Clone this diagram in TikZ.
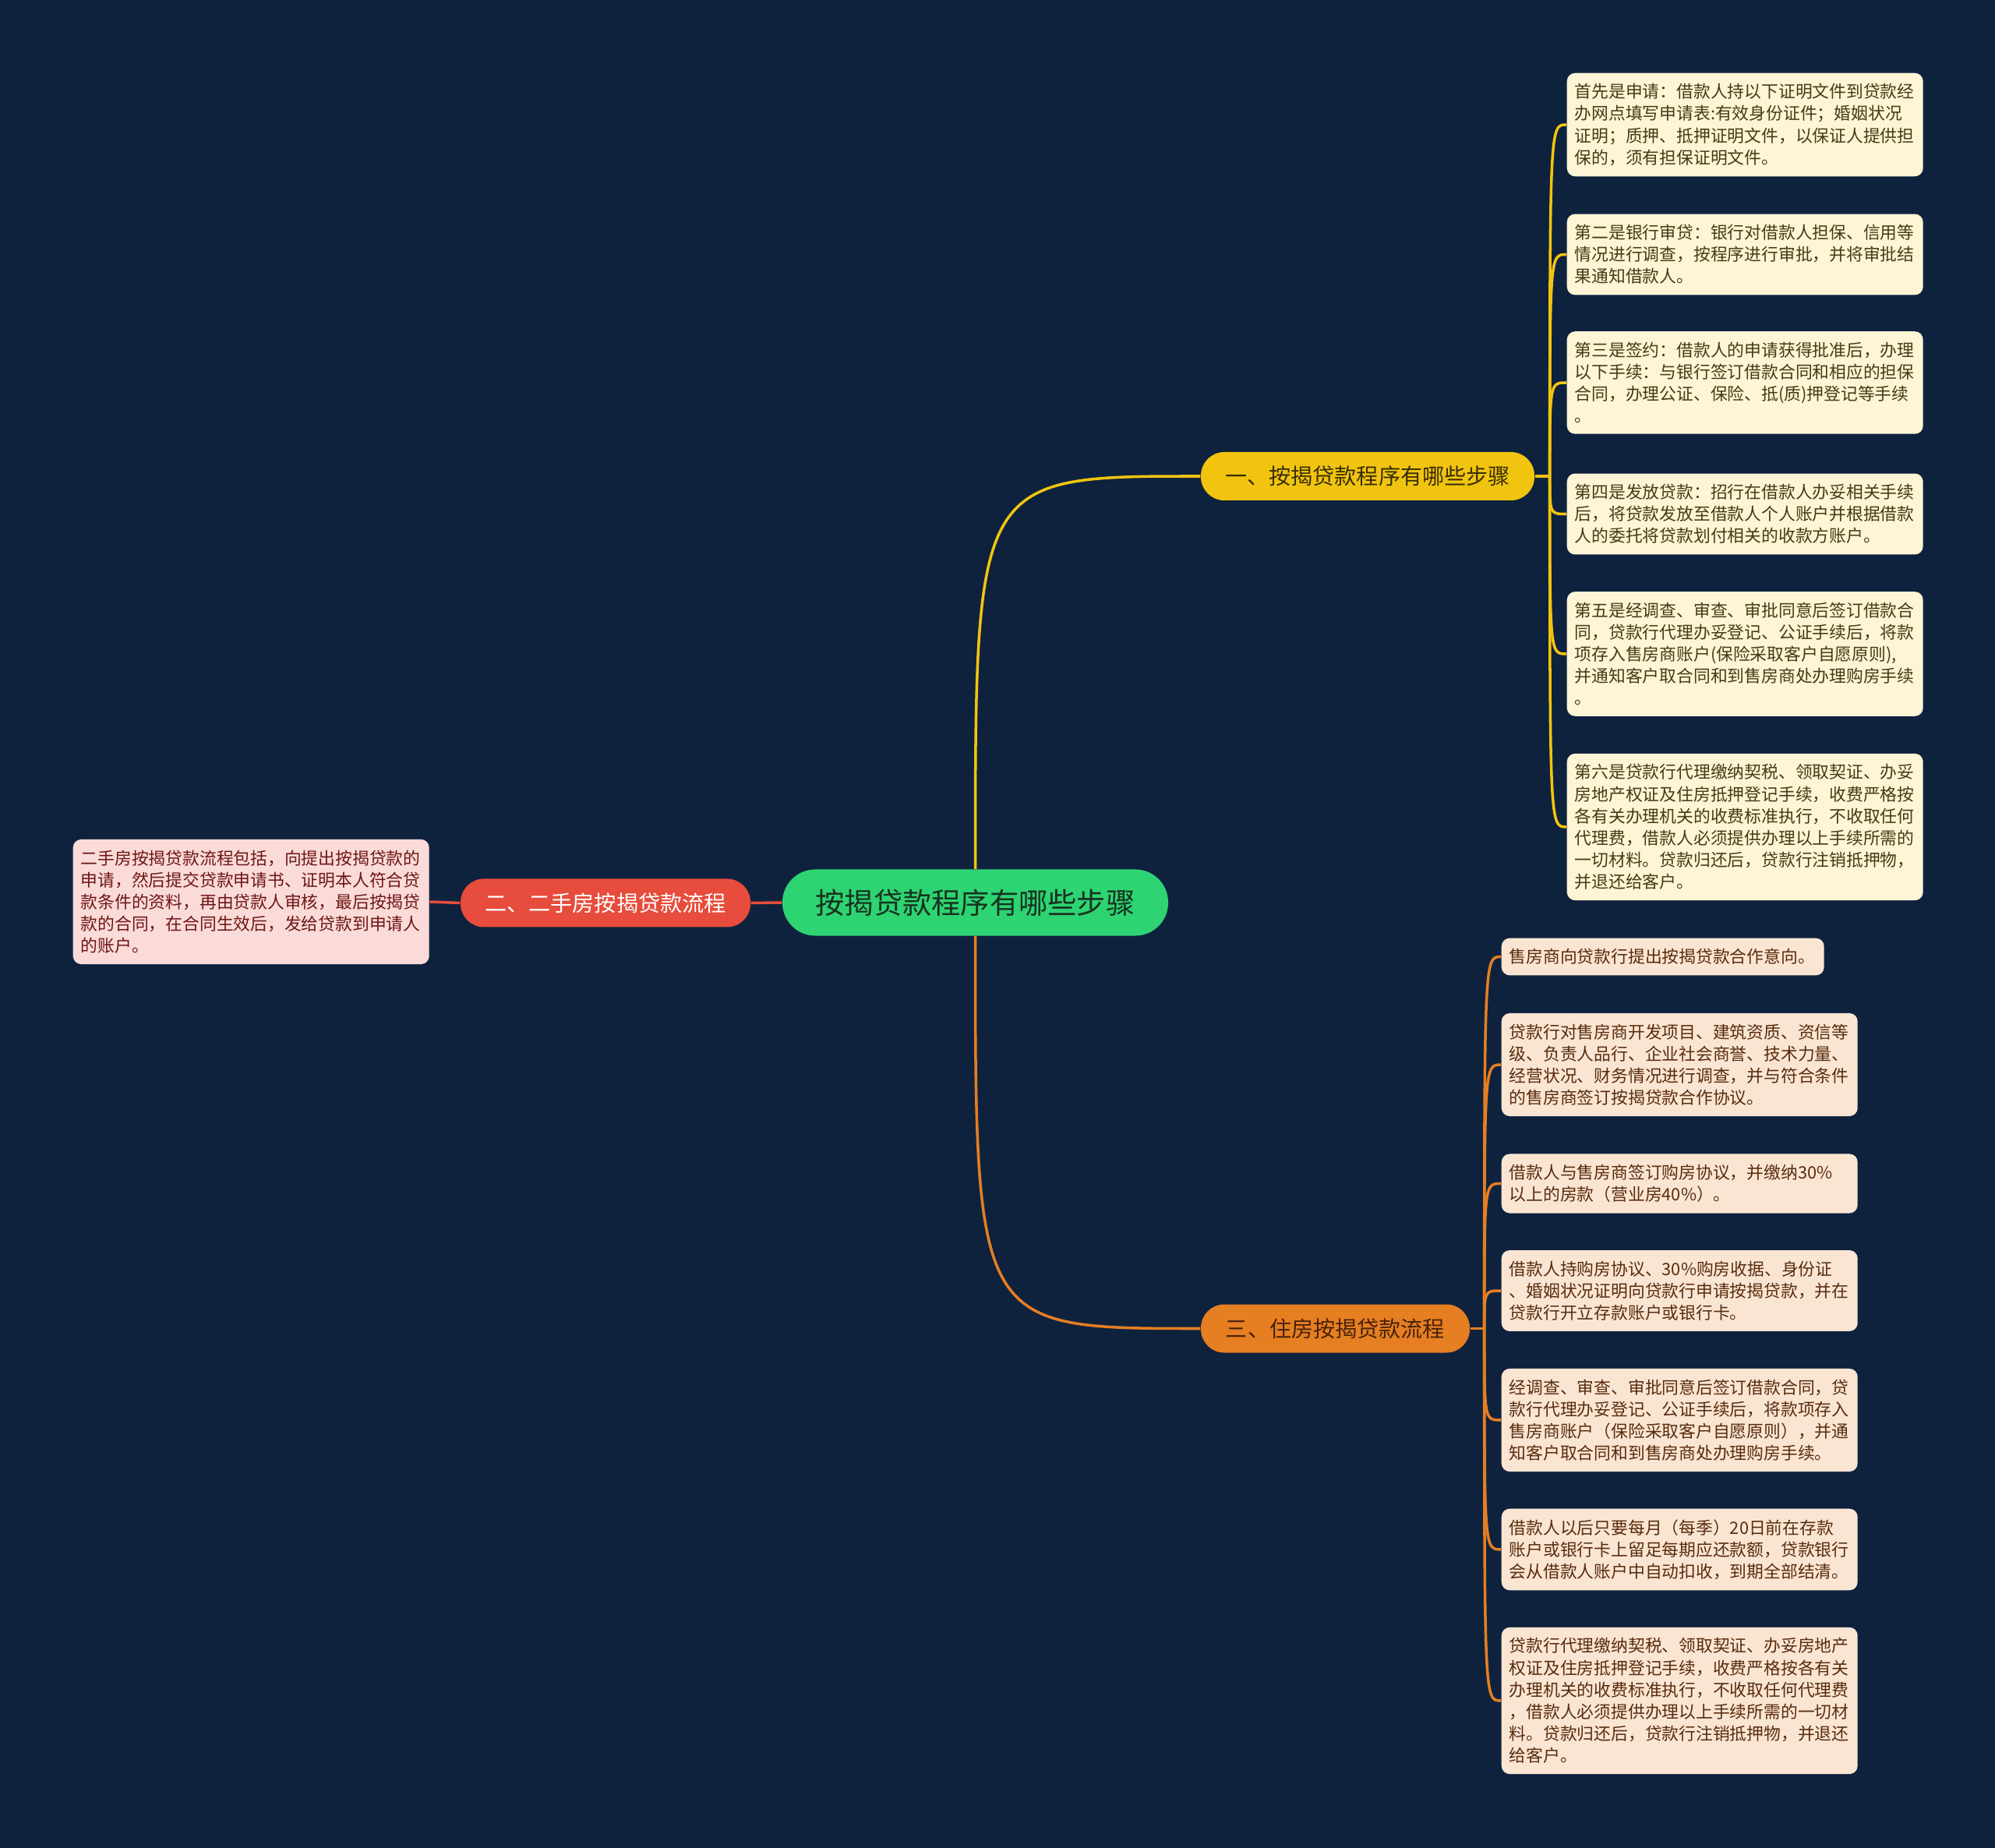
\documentclass[tikz,border=0pt]{standalone}
\usepackage{fontspec}
\setmainfont{Noto Sans CJK SC}
\usetikzlibrary{positioning}

\definecolor{bgnavy}{RGB}{14,34,62}
\definecolor{rootgreen}{RGB}{46,211,114}
\definecolor{rootink}{RGB}{22,50,32}
\definecolor{ylw}{RGB}{241,196,15}
\definecolor{ylwink}{RGB}{58,46,6}
\definecolor{ylwleaf}{RGB}{253,245,213}
\definecolor{ylwtext}{RGB}{70,58,22}
\definecolor{redc}{RGB}{231,76,60}
\definecolor{redleaf}{RGB}{250,219,216}
\definecolor{redtext}{RGB}{110,22,20}
\definecolor{org}{RGB}{230,126,34}
\definecolor{orgink}{RGB}{70,34,8}
\definecolor{orgleaf}{RGB}{250,229,211}
\definecolor{orgtext}{RGB}{88,44,14}

\begin{document}
\begin{tikzpicture}[
  leaf/.style={
    rounded corners=3pt,
    align=left,
    text width=4.37cm,
    inner xsep=0.1cm,
    inner ysep=3.9pt,
    anchor=west,
    font=\fontsize{6.2}{8}\selectfont
  },
  branch/.style={
    rounded corners=0.3cm,
    minimum height=0.62cm,
    inner sep=0pt,
    font=\fontsize{8}{10}\selectfont
  },
  link/.style={line width=1pt}
]

\fill[bgnavy] (0,0) rectangle (25.6,-23.71);
\useasboundingbox (0,0) rectangle (25.6,-23.71);

% Root and branches
\node[fill=rootgreen, text=rootink, rounded corners=0.42cm, minimum width=4.95cm,
  minimum height=0.85cm, inner sep=0pt, font=\fontsize{10.6}{12}\selectfont]
  (root) at (12.515,-11.58) {按揭贷款程序有哪些步骤};

\node[branch, fill=ylw, text=ylwink, minimum width=4.28cm] (steps) at (17.55,-6.11)
  {一、按揭贷款程序有哪些步骤};
\node[branch, fill=redc, text=white, minimum width=3.72cm] (resale) at (7.77,-11.585)
  {二、二手房按揭贷款流程};
\node[branch, fill=org, text=orgink, minimum width=3.45cm] (housing) at (17.135,-17.045)
  {三、住房按揭贷款流程};

% Steps leaves
\node[leaf, fill=ylwleaf, text=ylwtext] (s1) at (20.10,-1.60) {%
  首先是申请：借款人持以下证明文件到贷款经\\
  办网点填写申请表:有效身份证件；婚姻状况\\
  证明；质押、抵押证明文件，以保证人提供担\\
  保的，须有担保证明文件。};
\node[leaf, fill=ylwleaf, text=ylwtext] (s2) at (20.10,-3.265) {%
  第二是银行审贷：银行对借款人担保、信用等\\
  情况进行调查，按程序进行审批，并将审批结\\
  果通知借款人。};
\node[leaf, fill=ylwleaf, text=ylwtext] (s3) at (20.10,-4.91) {%
  第三是签约：借款人的申请获得批准后，办理\\
  以下手续：与银行签订借款合同和相应的担保\\
  合同，办理公证、保险、抵(质)押登记等手续\\
  。};
\node[leaf, fill=ylwleaf, text=ylwtext] (s4) at (20.10,-6.595) {%
  第四是发放贷款：招行在借款人办妥相关手续\\
  后，将贷款发放至借款人个人账户并根据借款\\
  人的委托将贷款划付相关的收款方账户。};
\node[leaf, fill=ylwleaf, text=ylwtext] (s5) at (20.10,-8.39) {%
  第五是经调查、审查、审批同意后签订借款合\\
  同，贷款行代理办妥登记、公证手续后，将款\\
  项存入售房商账户(保险采取客户自愿原则),\\
  并通知客户取合同和到售房商处办理购房手续\\
  。};
\node[leaf, fill=ylwleaf, text=ylwtext] (s6) at (20.10,-10.61) {%
  第六是贷款行代理缴纳契税、领取契证、办妥\\
  房地产权证及住房抵押登记手续，收费严格按\\
  各有关办理机关的收费标准执行，不收取任何\\
  代理费，借款人必须提供办理以上手续所需的\\
  一切材料。贷款归还后，贷款行注销抵押物，\\
  并退还给客户。};

% Resale leaf
\node[leaf, fill=redleaf, text=redtext] (r1) at (0.93,-11.57) {%
  二手房按揭贷款流程包括，向提出按揭贷款的\\
  申请，然后提交贷款申请书、证明本人符合贷\\
  款条件的资料，再由贷款人审核，最后按揭贷\\
  款的合同，在合同生效后，发给贷款到申请人\\
  的账户。};

% Housing leaves
\node[leaf, fill=orgleaf, text=orgtext, text width=3.94cm] (h1) at (19.26,-12.275) {%
  售房商向贷款行提出按揭贷款合作意向。};
\node[leaf, fill=orgleaf, text=orgtext] (h2) at (19.26,-13.66) {%
  贷款行对售房商开发项目、建筑资质、资信等\\
  级、负责人品行、企业社会商誉、技术力量、\\
  经营状况、财务情况进行调查，并与符合条件\\
  的售房商签订按揭贷款合作协议。};
\node[leaf, fill=orgleaf, text=orgtext] (h3) at (19.26,-15.185) {%
  借款人与售房商签订购房协议，并缴纳30\%\\
  以上的房款（营业房40\%）。};
\node[leaf, fill=orgleaf, text=orgtext] (h4) at (19.26,-16.56) {%
  借款人持购房协议、30\%购房收据、身份证\\
  、婚姻状况证明向贷款行申请按揭贷款，并在\\
  贷款行开立存款账户或银行卡。};
\node[leaf, fill=orgleaf, text=orgtext] (h5) at (19.26,-18.22) {%
  经调查、审查、审批同意后签订借款合同，贷\\
  款行代理办妥登记、公证手续后，将款项存入\\
  售房商账户（保险采取客户自愿原则），并通\\
  知客户取合同和到售房商处办理购房手续。};
\node[leaf, fill=orgleaf, text=orgtext] (h6) at (19.26,-19.88) {%
  借款人以后只要每月（每季）20日前在存款\\
  账户或银行卡上留足每期应还款额，贷款银行\\
  会从借款人账户中自动扣收，到期全部结清。};
\node[leaf, fill=orgleaf, text=orgtext] (h7) at (19.26,-21.82) {%
  贷款行代理缴纳契税、领取契证、办妥房地产\\
  权证及住房抵押登记手续，收费严格按各有关\\
  办理机关的收费标准执行，不收取任何代理费\\
  ，借款人必须提供办理以上手续所需的一切材\\
  料。贷款归还后，贷款行注销抵押物，并退还\\
  给客户。};

% Root links
\draw[link, ylw] (root.north) .. controls (root.north |- steps.west) and (root.north |- steps.west) .. (steps.west);
\draw[link, org] (root.south) .. controls (root.south |- housing.west) and (root.south |- housing.west) .. (housing.west);
\draw[link, redc] (root.west) -- (resale.east);
\draw[link, redc] (resale.west) -- (r1.east);

% Steps links
\coordinate (js) at ([xshift=0.19cm]steps.east);
\draw[link, ylw] (steps.east) -- (js);
\draw[link, ylw] (js) .. controls (js |- s1.west) and (js |- s1.west) .. (s1.west);
\draw[link, ylw] (js) .. controls (js |- s2.west) and (js |- s2.west) .. (s2.west);
\draw[link, ylw] (js) .. controls (js |- s3.west) and (js |- s3.west) .. (s3.west);
\draw[link, ylw] (js) .. controls (js |- s4.west) and (js |- s4.west) .. (s4.west);
\draw[link, ylw] (js) .. controls (js |- s5.west) and (js |- s5.west) .. (s5.west);
\draw[link, ylw] (js) .. controls (js |- s6.west) and (js |- s6.west) .. (s6.west);

% Housing links
\coordinate (jh) at ([xshift=0.18cm]housing.east);
\draw[link, org] (housing.east) -- (jh);
\draw[link, org] (jh) .. controls (jh |- h1.west) and (jh |- h1.west) .. (h1.west);
\draw[link, org] (jh) .. controls (jh |- h2.west) and (jh |- h2.west) .. (h2.west);
\draw[link, org] (jh) .. controls (jh |- h3.west) and (jh |- h3.west) .. (h3.west);
\draw[link, org] (jh) .. controls (jh |- h4.west) and (jh |- h4.west) .. (h4.west);
\draw[link, org] (jh) .. controls (jh |- h5.west) and (jh |- h5.west) .. (h5.west);
\draw[link, org] (jh) .. controls (jh |- h6.west) and (jh |- h6.west) .. (h6.west);
\draw[link, org] (jh) .. controls (jh |- h7.west) and (jh |- h7.west) .. (h7.west);

\end{tikzpicture}
\end{document}
